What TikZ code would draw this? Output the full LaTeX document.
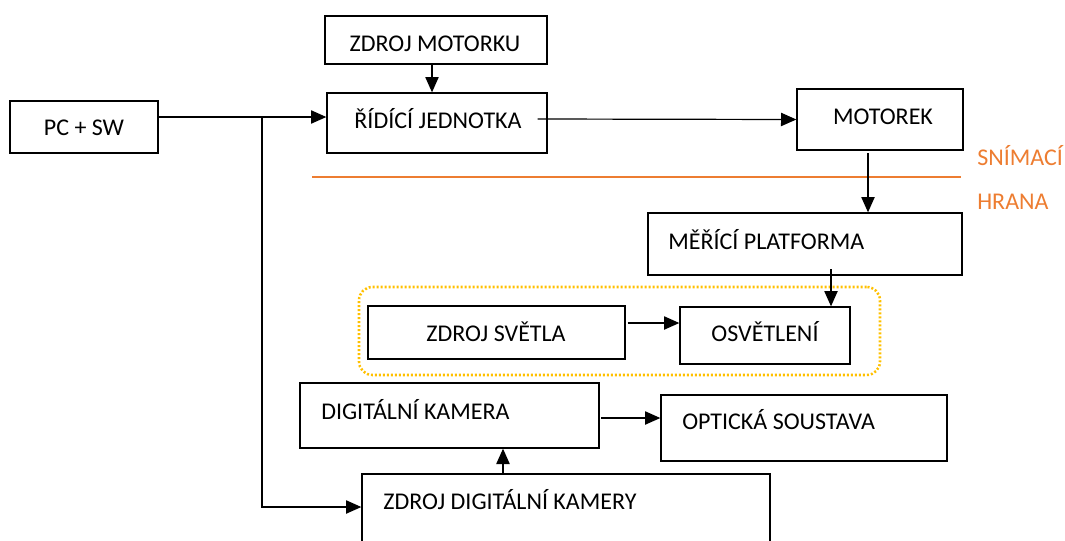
\documentclass[tikz,border=0pt]{standalone}
\usepackage{fontspec}
\setmainfont{Carlito}
\usetikzlibrary{arrows.meta,fit}
\definecolor{edgeorange}{HTML}{ED7D31}
\definecolor{groupyellow}{HTML}{FFC000}
\tikzset{
  box/.style={draw=black, line width=1pt, inner sep=0pt, fill=none},
  txt/.style={inner sep=0pt, font=\fontsize{18}{20}\selectfont, text=black},
  ltxt/.style={txt, anchor=base west},
  ctxt/.style={txt, anchor=base},
  conn/.style={draw=black, line width=0.9pt, -{Triangle[length=11.5pt,width=10pt]}},
  wire/.style={draw=black, line width=0.9pt},
  edgelabel/.style={ltxt, text=edgeorange}
}
\begin{document}
\begin{tikzpicture}[x=0.75pt,y=-0.75pt]
\useasboundingbox (0,0) rectangle (1065,540);
\clip (0,0) rectangle (1065,540);

% blocks
\node[box, fit={(10,101) (158,153)}] (pc) {};
\node[box, fit={(325,16) (547,64)}] (zm) {};
\node[box, fit={(327,93) (547,153)}] (rj) {};
\node[box, fit={(797,89) (963,150)}] (mot) {};
\node[box, fit={(648,213) (962,275)}] (mp) {};
\node[box, fit={(368,306) (625,359)}] (zs) {};
\node[box, fit={(680,307) (850,364)}] (osv) {};
\node[box, fit={(300,383) (599,448)}] (dk) {};
\node[box, fit={(661,395) (947,461)}] (os) {};
\node[box, fit={(362,474) (770,570)}] (zdk) {};

% illumination group
\node[draw=groupyellow, line width=1.9pt, dash pattern=on 1.5pt off 1.5pt,
      rounded corners=10pt, inner sep=0pt, fit={(359,287) (880,375)}] (grp) {};

% scanning edge
\coordinate (edgeL) at (312,177);
\coordinate (edgeR) at (961,177);
\draw[edgeorange, line width=1.9pt] (edgeL) -- (edgeR);
\node[edgelabel] (lsn) at (977,165) {SNÍMACÍ};
\node[edgelabel] (lhr) at (977,209) {HRANA};

% block texts
\node[ctxt] (tpc) at (84,135) {PC + SW};
\node[ctxt] (tzm) at (435,51) {ZDROJ MOTORKU};
\node[ctxt] (trj) at (438,128) {ŘÍDÍCÍ JEDNOTKA};
\node[ctxt] (tmot) at (883,124) {MOTOREK};
\node[ltxt] (tmp) at (668,249) {MĚŘÍCÍ PLATFORMA};
\node[ctxt] (tzs) at (496,341) {ZDROJ SVĚTLA};
\node[ctxt] (tosv) at (765,341) {OSVĚTLENÍ};
\node[ltxt] (tdk) at (321,419) {DIGITÁLNÍ KAMERA};
\node[ltxt] (tos) at (682,429) {OPTICKÁ SOUSTAVA};
\node[ltxt] (tzdk) at (383,509) {ZDROJ DIGITÁLNÍ KAMERY};

% connectors
\coordinate (branch) at (262,117);
\draw[wire] (pc.east |- branch) -- (branch);
\draw[conn] (branch) -- (rj.west |- branch);
\draw[conn] (branch) |- (zdk.west |- 0,507);
\draw[conn] (zm.south -| 432,0) -- (rj.north -| 432,0);
\draw[conn] ([xshift=-7.5pt,yshift=3pt]rj.east) -- (mot.west);
\draw[conn] ([yshift=-2pt]mot.south -| 868,0) -- (mp.north -| 868,0);
\draw[conn] ([yshift=5pt]mp.south -| 831,0) -- (osv.north -| 831,0);
\draw[conn] ([xshift=1.5pt]zs.east |- 0,323) -- (osv.west |- 0,323);
\draw[conn] ([xshift=1pt]dk.east |- 0,418) -- (os.west |- 0,418);
\draw[conn] (zdk.north -| 503,0) -- (dk.south -| 503,0);
\end{tikzpicture}
\end{document}
